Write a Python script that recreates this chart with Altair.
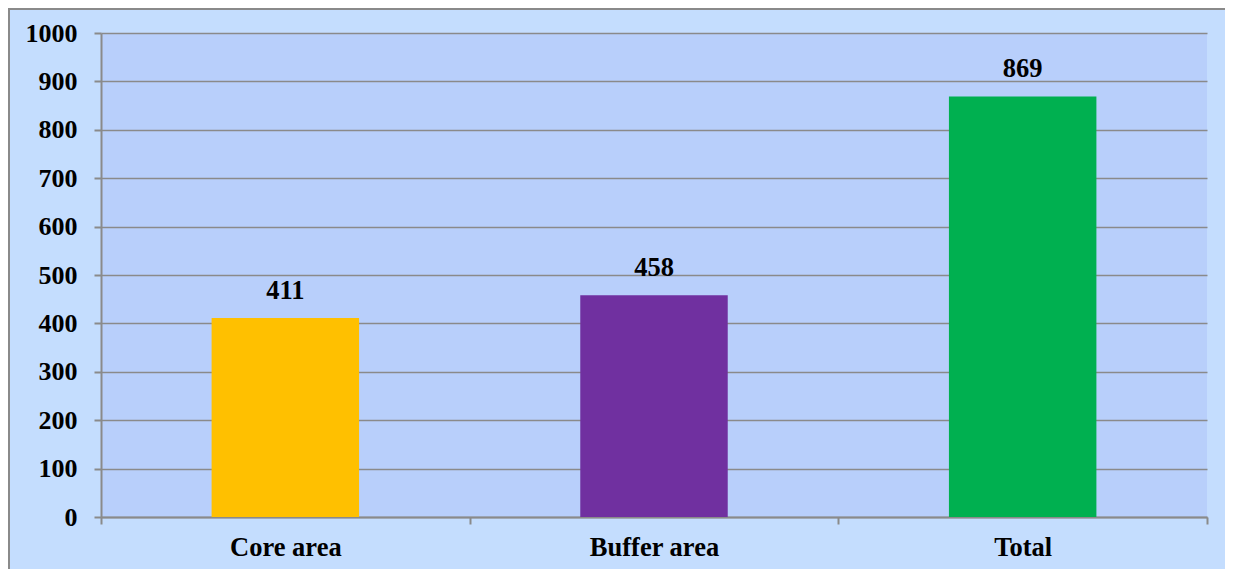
import altair as alt
import pandas as pd

categories = ["Core area", "Buffer area", "Total"]
values = [411, 458, 869]
bar_colors = ["#FFC000", "#7030A0", "#00B050"]
y_ticks = [0, 100, 200, 300, 400, 500, 600, 700, 800, 900, 1000]

df = pd.DataFrame({"category": categories, "value": values, "color": bar_colors})

W, H = 1106, 484
FONT = "'Times New Roman', 'Liberation Serif', Tinos, 'DejaVu Serif', serif"
GRID = "#8a8a8a"

x_enc = alt.X(
    "category:N",
    sort=categories,
    scale=alt.Scale(paddingInner=0, paddingOuter=0),
    axis=alt.Axis(
        title=None, labelAngle=0, tickBand="extent", tickSize=7,
        tickColor=GRID, tickWidth=2, domainColor=GRID, domainWidth=2,
        labelFont=FONT, labelFontSize=26.5, labelFontWeight="bold",
        labelColor="black", labelPadding=10, grid=False,
    ),
)
y_enc = alt.Y(
    "value:Q",
    scale=alt.Scale(domain=[0, 1000], nice=False),
    axis=alt.Axis(
        title=None, values=y_ticks, format="d", tickSize=7, tickColor=GRID, tickWidth=2,
        domainColor=GRID, domainWidth=2, gridColor=GRID, gridWidth=1.5,
        labelFont=FONT, labelFontSize=26, labelFontWeight="bold",
        labelColor="black", labelPadding=17,
    ),
)

base = alt.Chart(df)
bars = base.mark_bar(width=alt.RelativeBandSize(0.4)).encode(
    x=x_enc, y=y_enc, color=alt.Color("color:N", scale=None)
)
labels = base.mark_text(
    dy=-19, baseline="alphabetic", fontSize=26.5, font=FONT,
    fontWeight="bold", color="black",
).encode(x=x_enc, y=y_enc, text="value:Q")

frame_data = alt.Data(values=[{"k": 0}])
top_border = alt.Chart(frame_data).mark_rule(
    color=GRID, strokeWidth=2, clip=False
).encode(x=alt.value(-94), x2=alt.value(W + 200), y=alt.value(-24))
left_border = alt.Chart(frame_data).mark_rule(
    color=GRID, strokeWidth=2, clip=False
).encode(x=alt.value(-92), y=alt.value(-24), y2=alt.value(H + 200))

chart = alt.layer(bars, labels, top_border, left_border).properties(
    width=W, height=H,
    autosize=alt.AutoSizeParams(type="none"),
    padding={"left": 93, "top": 25, "right": 18, "bottom": 52},
    background="#C4DDFE",
).configure_view(fill="#B8CFFB", stroke=None)

chart.save("out.html", embed_options={"renderer": "svg", "actions": False})
